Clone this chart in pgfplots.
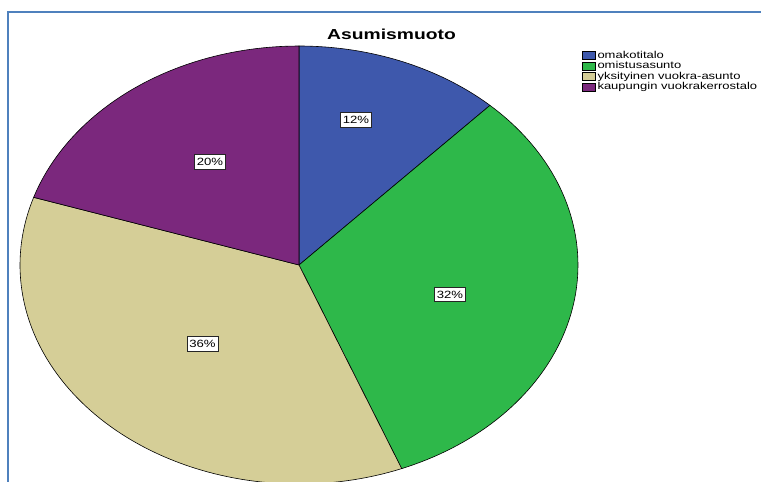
\documentclass[border=0pt]{standalone}
\usepackage{pgfplots}
\pgfplotsset{compat=1.18}
\usepackage{fontspec}
\setmainfont{Liberation Sans}
\usepackage{graphicx}
\definecolor{cBlue}{RGB}{62,88,172}
\definecolor{cGreen}{RGB}{46,184,74}
\definecolor{cTan}{RGB}{213,206,151}
\definecolor{cPurple}{RGB}{123,40,125}
\definecolor{cFrame}{RGB}{79,129,189}
\begin{document}
\begin{tikzpicture}[x=1pt,y=1pt]
\begin{axis}[
  at={(0,0)}, anchor=south west,
  scale only axis, width=761pt, height=482pt,
  xmin=0, xmax=761, ymin=0, ymax=482, y dir=reverse,
  hide axis, clip=true,
  legend cell align=left,
  legend image code/.code={\draw[#1,draw=black,line width=0.5pt] (0pt,-3.8pt) rectangle (13.5pt,3.8pt);},
  legend style={at={(axis cs:581.5,50)}, anchor=north west, draw=none, fill=none,
    inner sep=0pt, row sep=0pt,
    font=\fontsize{10}{10}\selectfont,
    nodes={text height=7.4pt, text depth=2.3pt, inner ysep=0.4pt, inner xsep=1.8pt}},
]
% frame
\draw[cFrame, line width=2.2pt] (axis cs:8,482) -- (axis cs:8,12) -- (axis cs:761,12);
% slices: cumulative percentages, clockwise from top
\addplot[fill=cBlue, draw=black, line width=0.6pt, domain=0:12, samples=40, variable=\t]
  ({299+279*sin(3.6*\t)},{265-219*cos(3.6*\t)}) -- (axis cs:299,265) -- cycle;
\addplot[fill=cGreen, draw=black, line width=0.6pt, domain=12:44, samples=80, variable=\t]
  ({299+279*sin(3.6*\t)},{265-219*cos(3.6*\t)}) -- (axis cs:299,265) -- cycle;
\addplot[fill=cTan, draw=black, line width=0.6pt, domain=44:80, samples=90, variable=\t]
  ({299+279*sin(3.6*\t)},{265-219*cos(3.6*\t)}) -- (axis cs:299,265) -- cycle;
\addplot[fill=cPurple, draw=black, line width=0.6pt, domain=80:100, samples=50, variable=\t]
  ({299+279*sin(3.6*\t)},{265-219*cos(3.6*\t)}) -- (axis cs:299,265) -- cycle;
\legend{\scalebox{1.3}[1]{omakotitalo},\scalebox{1.3}[1]{omistusasunto},\scalebox{1.3}[1]{yksityinen vuokra-asunto},\scalebox{1.3}[1]{kaupungin vuokrakerrostalo}}
% labels
\tikzset{pl/.style={fill=white, draw=black!85, line width=0.7pt, minimum width=31pt, minimum height=14.5pt, inner sep=0pt, font=\fontsize{10.5}{10.5}\selectfont}}
\node[pl] at (axis cs:356,120) {\scalebox{1.25}[1]{12\%}};
\node[pl] at (axis cs:450,294.5) {\scalebox{1.25}[1]{32\%}};
\node[pl] at (axis cs:202.5,344) {\scalebox{1.25}[1]{36\%}};
\node[pl] at (axis cs:210,162) {\scalebox{1.25}[1]{20\%}};
% title
\node[anchor=base, inner sep=0pt, font=\bfseries\fontsize{14.5}{14.5}\selectfont] at (axis cs:391.5,39.5) {\scalebox{1.33}[1]{Asumismuoto}};
\end{axis}
\pgfresetboundingbox
\path[use as bounding box] (0,0) rectangle (761,482);
\end{tikzpicture}
\end{document}
